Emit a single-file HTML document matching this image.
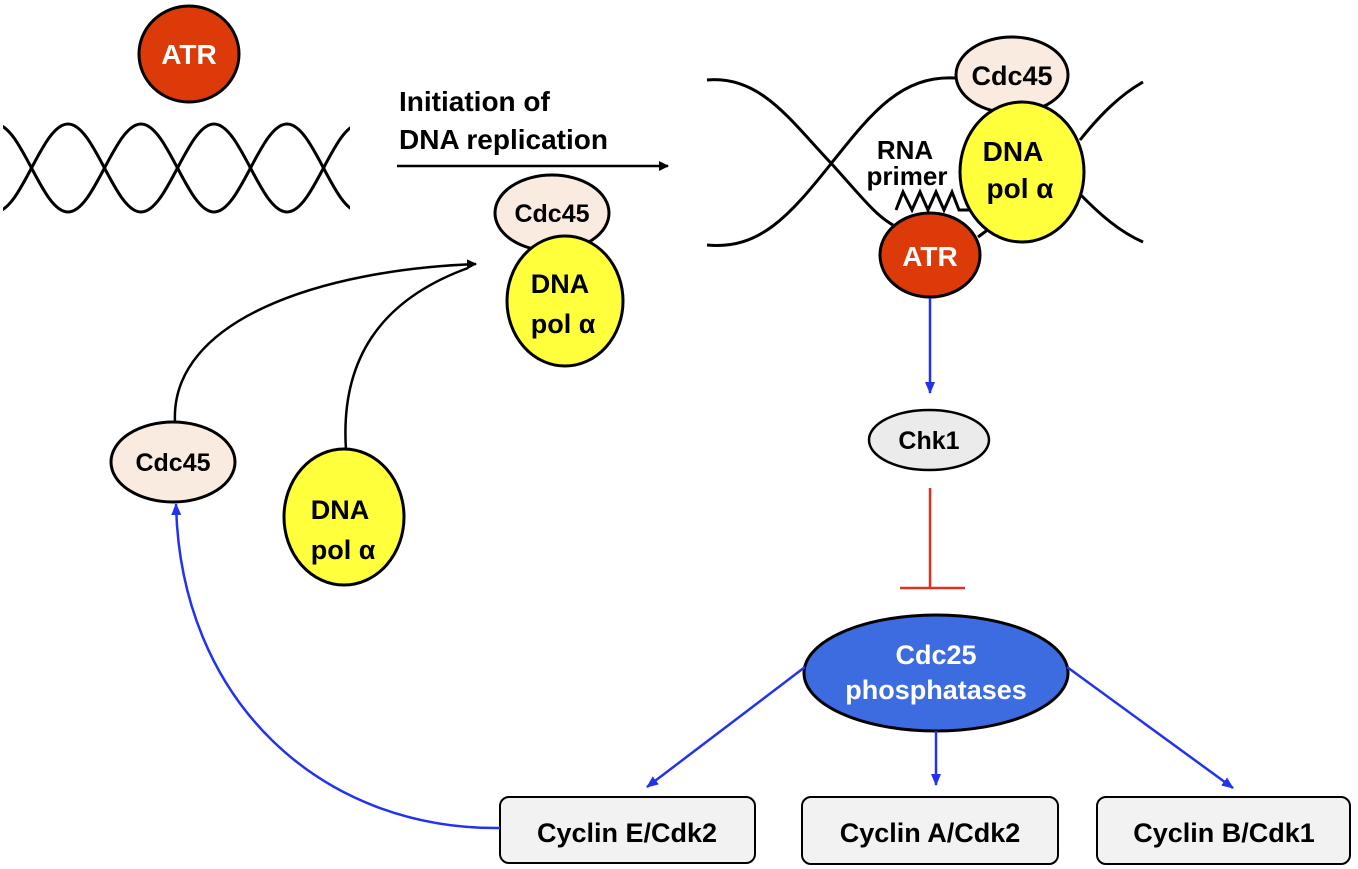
<!DOCTYPE html>
<html><head><meta charset="utf-8"><style>
html,body{margin:0;padding:0;background:#fff}
svg{display:block}
text{font-family:"Liberation Sans",sans-serif;font-weight:bold;fill:#000}
</style></head><body>
<svg width="1358" height="869" viewBox="0 0 1358 869" xmlns="http://www.w3.org/2000/svg">
<defs>
<clipPath id="hc"><rect x="3" y="100" width="347" height="140"/></clipPath>
<marker id="ab" markerWidth="10" markerHeight="10" refX="9" refY="5" orient="auto" markerUnits="userSpaceOnUse"><path d="M0,0 L10,5 L0,10 z" fill="#000"/></marker>
<marker id="abl" markerWidth="12" markerHeight="12" refX="11" refY="6" orient="auto" markerUnits="userSpaceOnUse"><path d="M0,1 L12,6 L0,11 z" fill="#2233ee"/></marker>
</defs>
<g clip-path="url(#hc)" fill="none" stroke="#000" stroke-width="3">
<path d="M-5,212 C21.6,212 41.4,124 68,124 C94.6,124 114.4,212 141,212 C167.6,212 187.4,124 214,124 C240.6,124 260.4,212 287,212 C313.6,212 333.4,124 360,124"/>
<path d="M-5,124 C21.6,124 41.4,212 68,212 C94.6,212 114.4,124 141,124 C167.6,124 187.4,212 214,212 C240.6,212 260.4,124 287,124 C313.6,124 333.4,212 360,212"/>
</g>
<ellipse cx="189" cy="54" rx="50" ry="48" fill="#dd3a0a" stroke="#000" stroke-width="3"/>
<text x="189" y="64" font-size="28" text-anchor="middle" style="fill:#fff">ATR</text>
<text x="399" y="111" font-size="28">Initiation of</text>
<text x="399" y="149" font-size="28">DNA replication</text>
<line x1="397" y1="166" x2="668" y2="166" stroke="#000" stroke-width="2.5" marker-end="url(#ab)"/>
<ellipse cx="552" cy="213" rx="57" ry="38" fill="#f9ebe0" stroke="#000" stroke-width="3"/>
<text x="552" y="222" font-size="25" text-anchor="middle">Cdc45</text>
<ellipse cx="565" cy="301" rx="58" ry="65" fill="#ffff3c" stroke="#000" stroke-width="3"/>
<text x="560" y="293" font-size="27" text-anchor="middle">DNA</text>
<text x="563" y="333" font-size="27" text-anchor="middle">pol α</text>
<path d="M175,422 C170,320 320,270 476,264" fill="none" stroke="#000" stroke-width="2.5" marker-end="url(#ab)"/>
<path d="M346,450 C340,360 380,300 468,268" fill="none" stroke="#000" stroke-width="2.5"/>
<ellipse cx="173" cy="462" rx="62" ry="40" fill="#f9ebe0" stroke="#000" stroke-width="3"/>
<text x="173" y="471" font-size="25" text-anchor="middle">Cdc45</text>
<ellipse cx="344" cy="517" rx="60" ry="68" fill="#ffff3c" stroke="#000" stroke-width="3"/>
<text x="340" y="519" font-size="27" text-anchor="middle">DNA</text>
<text x="343" y="559" font-size="27" text-anchor="middle">pol α</text>
<g fill="none" stroke="#000" stroke-width="3">
<path d="M707,80 C760,75 790,120 830,162 C860,195 875,215 893,225"/>
<path d="M707,245 C760,250 790,215 830,165 C870,115 900,75 955,78"/>
<path d="M1080,140 C1100,115 1120,95 1143,82"/>
<path d="M1076,190 C1100,215 1120,232 1143,242"/>
<path d="M978,237 L1012,212"/>
<path d="M896,210 L903,192 L912,210 L920,192 L928,210 L936,192 L944,210 L952,192 L959,210 L965,210 L1000,210"/>
</g>
<ellipse cx="1012" cy="75" rx="56" ry="38" fill="#f9ebe0" stroke="#000" stroke-width="3"/>
<text x="1012" y="85" font-size="27" text-anchor="middle">Cdc45</text>
<ellipse cx="1022" cy="172" rx="62" ry="70" fill="#ffff3c" stroke="#000" stroke-width="3"/>
<text x="1013" y="161" font-size="28" text-anchor="middle">DNA</text>
<text x="1020" y="198" font-size="28" text-anchor="middle">pol α</text>
<text x="905" y="159" font-size="26" text-anchor="middle">RNA</text>
<text x="907" y="185" font-size="26" text-anchor="middle">primer</text>
<ellipse cx="930" cy="255" rx="50" ry="42" fill="#dd3a0a" stroke="#000" stroke-width="3"/>
<text x="930" y="266" font-size="28" text-anchor="middle" style="fill:#fff">ATR</text>
<line x1="930" y1="298" x2="930" y2="393" stroke="#2233ee" stroke-width="2.5" marker-end="url(#abl)"/>
<ellipse cx="929" cy="440" rx="60" ry="30" fill="#ebebeb" stroke="#000" stroke-width="2.5"/>
<text x="929" y="449" font-size="25" text-anchor="middle">Chk1</text>
<line x1="930" y1="488" x2="930" y2="588" stroke="#e0301e" stroke-width="2.5"/>
<line x1="900" y1="588" x2="965" y2="588" stroke="#e0301e" stroke-width="2.5"/>
<ellipse cx="936" cy="673" rx="132" ry="58" fill="#3d6ce0" stroke="#000" stroke-width="3"/>
<text x="936" y="664" font-size="27" text-anchor="middle" style="fill:#fff">Cdc25</text>
<text x="936" y="699" font-size="27" text-anchor="middle" style="fill:#fff">phosphatases</text>
<line x1="805" y1="667" x2="647" y2="787" stroke="#2233ee" stroke-width="2.5" marker-end="url(#abl)"/>
<line x1="936" y1="731" x2="936" y2="785" stroke="#2233ee" stroke-width="2.5" marker-end="url(#abl)"/>
<line x1="1067" y1="667" x2="1233" y2="788" stroke="#2233ee" stroke-width="2.5" marker-end="url(#abl)"/>
<rect x="500" y="797" width="255" height="66" rx="9" fill="#f2f2f2" stroke="#000" stroke-width="2"/>
<text x="627" y="842" font-size="27" text-anchor="middle">Cyclin E/Cdk2</text>
<rect x="802" y="797" width="256" height="67" rx="9" fill="#f2f2f2" stroke="#000" stroke-width="2"/>
<text x="930" y="842" font-size="27" text-anchor="middle">Cyclin A/Cdk2</text>
<rect x="1097" y="797" width="253" height="67" rx="9" fill="#f2f2f2" stroke="#000" stroke-width="2"/>
<text x="1224" y="842" font-size="27" text-anchor="middle">Cyclin B/Cdk1</text>
<path d="M500,828 C320,830 180,700 176,504" fill="none" stroke="#2233ee" stroke-width="2.5" marker-end="url(#abl)"/>
</svg>
</body></html>
